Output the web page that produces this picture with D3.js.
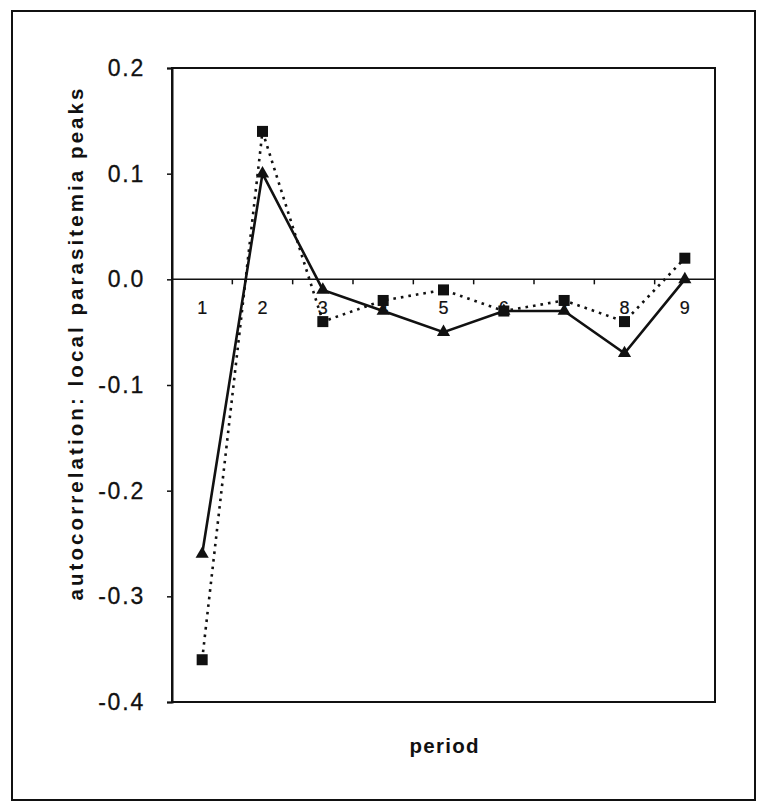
<!DOCTYPE html>
<html><head><meta charset="utf-8">
<script src="https://cdn.jsdelivr.net/npm/d3@7"></script>
<style>body{margin:0;background:#fff}svg{display:block}text{font-family:"Liberation Sans",Arial,sans-serif;fill:#111}</style>
</head><body>
<script>
const periods = ["1","2","3","4","5","6","7","8","9"];
const triangleSeries = [-0.26, 0.10, -0.01, -0.03, -0.05, -0.03, -0.03, -0.07, 0.00];
const squareSeries = [-0.36, 0.14, -0.04, -0.02, -0.01, -0.03, -0.02, -0.04, 0.02];
const yTicks = [0.2, 0.1, 0.0, -0.1, -0.2, -0.3, -0.4];
const yTitle = "autocorrelation: local parasitemia peaks";
const xTitle = "period";

const W = 769, H = 812;
const m = {left:172, top:68, right:715, bottom:702};
const svg = d3.select("body").append("svg").attr("width", W).attr("height", H);
svg.append("rect").attr("width", W).attr("height", H).attr("fill", "#fff");
svg.append("rect").attr("x", 12).attr("y", 11).attr("width", 743).attr("height", 789)
  .attr("fill", "none").attr("stroke", "#111").attr("stroke-width", 2);

const x = d3.scaleBand().domain(periods).range([m.left, m.right]);
const y = d3.scaleLinear().domain([-0.4, 0.2]).range([m.bottom, m.top]);

// plot frame
svg.append("rect").attr("x", m.left).attr("y", m.top).attr("width", m.right - m.left).attr("height", m.bottom - m.top)
  .attr("fill", "none").attr("stroke", "#111").attr("stroke-width", 2);

// y axis
const yAxis = d3.axisLeft(y).tickValues(yTicks).tickSize(5).tickPadding(22).tickFormat(d3.format(".1f"));
const gy = svg.append("g").attr("transform", `translate(${m.left},0)`).call(yAxis);
gy.select(".domain").attr("stroke", "#111").attr("stroke-width", 2);
gy.selectAll(".tick line").attr("stroke", "#111").attr("stroke-width", 1.5);
gy.selectAll(".tick text").attr("font-size", 23).attr("letter-spacing", "1.8px").attr("fill", "#111")
  .attr("stroke", "#111").attr("stroke-width", 0.3)
  .attr("font-family", '"Liberation Sans",Arial,sans-serif')
  .text(d => d3.format(".1f")(d).replace("−", "-"));

// zero line with category ticks between bands
svg.append("line").attr("x1", m.left).attr("x2", m.right).attr("y1", y(0)).attr("y2", y(0))
  .attr("stroke", "#111").attr("stroke-width", 1.5);
svg.selectAll(".ctick").data(periods.slice(1)).enter().append("line")
  .attr("x1", d => x(d)).attr("x2", d => x(d)).attr("y1", y(0)).attr("y2", y(0) + 5)
  .attr("stroke", "#111").attr("stroke-width", 1.5);
svg.selectAll(".clabel").data(periods).enter().append("text")
  .attr("x", d => x(d) + x.bandwidth() / 2).attr("y", y(0) + 35)
  .attr("text-anchor", "middle").attr("font-size", 18).attr("stroke", "#111").attr("stroke-width", 0.2)
  .text(d => d);

// series
const line = d3.line().x((d, i) => x(periods[i]) + x.bandwidth() / 2).y(d => y(d));
svg.append("path").datum(squareSeries).attr("d", line).attr("fill", "none")
  .attr("stroke", "#111").attr("stroke-width", 2.6).attr("stroke-dasharray", "2.6,5");
svg.append("path").datum(triangleSeries).attr("d", line).attr("fill", "none")
  .attr("stroke", "#111").attr("stroke-width", 2.6);
svg.selectAll(".sq").data(squareSeries).enter().append("rect")
  .attr("x", (d, i) => x(periods[i]) + x.bandwidth() / 2 - 5.5).attr("y", d => y(d) - 5.5)
  .attr("width", 11).attr("height", 11).attr("fill", "#111");
const tri = d3.symbol().type(d3.symbolTriangle).size(75);
svg.selectAll(".tri").data(triangleSeries).enter().append("path")
  .attr("d", tri).attr("fill", "#111")
  .attr("transform", (d, i) => `translate(${x(periods[i]) + x.bandwidth() / 2},${y(d)})`);

// titles
svg.append("text").attr("transform", `translate(83,${(88 + 601) / 2}) rotate(-90)`)
  .attr("text-anchor", "middle").attr("font-size", 20.5).attr("font-weight", "bold")
  .attr("textLength", 512).attr("lengthAdjust", "spacing").text(yTitle);
svg.append("text").attr("x", 444).attr("y", 753).attr("text-anchor", "middle")
  .attr("font-size", 20.5).attr("font-weight", "bold")
  .attr("textLength", 69).attr("lengthAdjust", "spacing").text(xTitle);
</script>
</body></html>
